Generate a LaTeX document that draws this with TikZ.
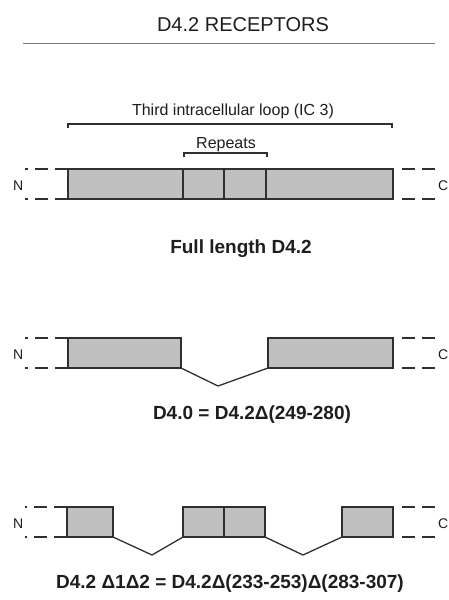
\documentclass[tikz,border=0pt]{standalone}
\usepackage{fontspec}
\setmainfont{Liberation Sans}
\definecolor{linec}{HTML}{303030}
\definecolor{boxc}{HTML}{C0C0C0}
\definecolor{textc}{HTML}{1E1E1E}
\definecolor{rulec}{HTML}{7A7A7A}
\begin{document}
\begin{tikzpicture}[x=1pt,y=-1pt,
  seg/.style={draw=linec, fill=boxc, line width=1.3pt, inner sep=0pt, outer sep=0pt, minimum height=30pt, anchor=north west},
  extl/.style={draw=linec, line width=1.3pt, dash pattern=on 13pt off 7pt},
  extr/.style={draw=linec, line width=1.3pt, dash pattern=on 0pt off 9pt on 13pt off 7pt on 13pt off 7pt},
  loopline/.style={draw=linec, line width=1.3pt},
  brk/.style={draw=linec, line width=1.5pt},
  term/.style={font=\fontsize{14}{16}\selectfont, text=textc, inner sep=0pt, anchor=base west},
  lab/.style={font=\bfseries\fontsize{19}{22}\selectfont, text=textc, inner sep=0pt, anchor=base},
  plain/.style={font=\fontsize{16}{19}\selectfont, text=textc, inner sep=0pt, anchor=base}]
\path[fill=white] (0,0) rectangle (449,600);
\useasboundingbox (0,0) rectangle (449,600);

% title
\node[font=\fontsize{20}{24}\selectfont, text=textc, inner sep=0pt, anchor=base] (title) at (243,31) {D4.2 RECEPTORS};
\coordinate (ruleL) at (23,43);
\coordinate (ruleR) at (435,43);
\draw[rulec, line width=1pt] (ruleL) -- (ruleR);

% ---------- Full length ----------
\node[plain] (ic3) at (233,115) {Third intracellular loop (IC 3)};
\coordinate (b1a) at (68,128); \coordinate (b1b) at (68,124);
\coordinate (b1c) at (392,124); \coordinate (b1d) at (392,128);
\draw[brk] (b1a) -- (b1b) -- (b1c) -- (b1d);
\node[plain] (rep) at (226,148) {Repeats};
\coordinate (b2a) at (184,157); \coordinate (b2b) at (184,153);
\coordinate (b2c) at (267,153); \coordinate (b2d) at (267,157);
\draw[brk] (b2a) -- (b2b) -- (b2c) -- (b2d);

\node[seg, minimum width=115pt] (f1) at (68,169) {};
\node[seg, minimum width=41pt] (f2) at (183,169) {};
\node[seg, minimum width=42pt] (f3) at (224,169) {};
\node[seg, minimum width=127pt] (f4) at (266,169) {};
\coordinate (fLt) at (25,169); \coordinate (fLb) at (25,199);
\coordinate (fRt) at (437,169); \coordinate (fRb) at (437,199);
\draw[extl] (f1.north west) -- (fLt);
\draw[extl] (f1.south west) -- (fLb);
\draw[extr] (f4.north east) -- (fRt);
\draw[extr] (f4.south east) -- (fRb);
\node[term] (fN) at (13,190) {N};
\node[term] (fC) at (438,190) {C};
\node[lab] (flab) at (241,253) {Full length D4.2};

% ---------- D4.0 ----------
\node[seg, minimum width=113pt] (g1) at (68,338) {};
\node[seg, minimum width=125pt] (g2) at (268,338) {};
\coordinate (gv) at (218,386);
\draw[loopline] (g1.south east) -- (gv) -- (g2.south west);
\coordinate (gLt) at (25,338); \coordinate (gLb) at (25,368);
\coordinate (gRt) at (437,338); \coordinate (gRb) at (437,368);
\draw[extl] (g1.north west) -- (gLt);
\draw[extl] (g1.south west) -- (gLb);
\draw[extr] (g2.north east) -- (gRt);
\draw[extr] (g2.south east) -- (gRb);
\node[term] (gN) at (13,359) {N};
\node[term] (gC) at (438,359) {C};
\node[lab] (glab) at (252,419) {D4.0 = D4.2Δ(249-280)};

% ---------- D4.2 Delta1Delta2 ----------
\node[seg, minimum width=46pt] (h1) at (67,507) {};
\node[seg, minimum width=41pt] (h2) at (183,507) {};
\node[seg, minimum width=41pt] (h3) at (224,507) {};
\node[seg, minimum width=51pt] (h4) at (342,507) {};
\coordinate (hv1) at (152,555);
\coordinate (hv2) at (303,555);
\draw[loopline] (h1.south east) -- (hv1) -- (h2.south west);
\draw[loopline] (h3.south east) -- (hv2) -- (h4.south west);
\coordinate (hLt) at (25,507); \coordinate (hLb) at (25,537);
\coordinate (hRt) at (437,507); \coordinate (hRb) at (437,537);
\draw[extl] (h1.north west) -- (hLt);
\draw[extl] (h1.south west) -- (hLb);
\draw[extr] (h4.north east) -- (hRt);
\draw[extr] (h4.south east) -- (hRb);
\node[term] (hN) at (13,528) {N};
\node[term] (hC) at (438,528) {C};
\node[lab] (hlab) at (230,588) {D4.2 Δ1Δ2 = D4.2Δ(233-253)Δ(283-307)};
\end{tikzpicture}
\end{document}
